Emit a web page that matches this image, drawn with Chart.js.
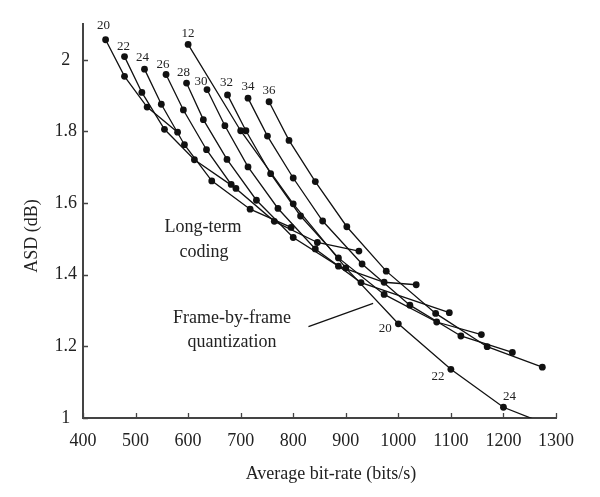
<!DOCTYPE html>
<html>
<head>
<meta charset="utf-8">
<script src="https://cdn.jsdelivr.net/npm/chart.js@4.4.0/dist/chart.umd.min.js"></script>
<style>
  html, body { margin: 0; padding: 0; background: #fff; }
  #wrap { width: 600px; height: 497px; }
</style>
</head>
<body>
<div id="wrap"><canvas id="c"></canvas></div>
<script>
// axis ticks
const xTicks = [400, 500, 600, 700, 800, 900, 1000, 1100, 1200, 1300];
const yTicks = [1, 1.2, 1.4, 1.6, 1.8, 2];

// long-term coding curves (label = first point)
const ltNames = ['20', '22', '24', '26', '28', '30', '32', '34', '36'];
const lt20x = [443, 479, 522, 580];
const lt20y = [2.056, 1.954, 1.868, 1.798];
const lt22x = [479, 512, 555, 612, 691];
const lt22y = [2.009, 1.909, 1.806, 1.721, 1.641];
const lt24x = [517, 549, 593, 645, 718, 796];
const lt24y = [1.974, 1.876, 1.763, 1.662, 1.583, 1.532];
const lt26x = [558, 591, 635, 682, 764, 846, 925];
const lt26y = [1.959, 1.860, 1.749, 1.652, 1.549, 1.490, 1.466];
const lt28x = [597, 629, 674, 730, 800, 886, 973, 1034];
const lt28y = [1.935, 1.833, 1.722, 1.608, 1.504, 1.424, 1.379, 1.372];
const lt30x = [636, 670, 714, 771, 842, 929, 1097];
const lt30y = [1.917, 1.816, 1.701, 1.585, 1.472, 1.378, 1.294];
const lt32x = [675, 710, 757, 814, 886, 973, 1073, 1158];
const lt32y = [1.902, 1.802, 1.682, 1.564, 1.447, 1.345, 1.268, 1.233];
const lt34x = [714, 751, 800, 856, 931, 1022, 1119, 1217];
const lt34y = [1.893, 1.787, 1.670, 1.550, 1.430, 1.315, 1.229, 1.183];
const lt36x = [754, 792, 842, 902, 977, 1071, 1169, 1274];
const lt36y = [1.883, 1.775, 1.660, 1.534, 1.410, 1.292, 1.199, 1.142];

// frame-by-frame quantization
const frameX = [600, 700, 800, 900, 1000, 1100, 1200, 1300];
const frameY = [2.043, 1.802, 1.598, 1.419, 1.263, 1.136, 1.030, 0.972];
const frameLabels = ['12', '', '', '', '20', '22', '24', ''];

// leader line for the "Frame-by-frame quantization" note
const leaderX = [829, 952];
const leaderY = [1.255, 1.320];

const FONT = "'Liberation Serif', 'DejaVu Serif', serif";
const INK = '#111';
const AXIS = '#444';

const pts = (xs, ys) => xs.map((x, i) => ({ x: x, y: ys[i] }));

const ltSeries = [
  [lt20x, lt20y], [lt22x, lt22y], [lt24x, lt24y], [lt26x, lt26y], [lt28x, lt28y],
  [lt30x, lt30y], [lt32x, lt32y], [lt34x, lt34y], [lt36x, lt36y]
];

const datasets = ltSeries.map((s, i) => ({
  label: 'LT ' + ltNames[i],
  data: pts(s[0], s[1]),
  borderColor: INK,
  borderWidth: 1.3,
  pointRadius: 3.4,
  pointBackgroundColor: INK,
  pointBorderWidth: 0,
  tension: 0
}));

datasets.push({
  label: 'Frame-by-frame',
  data: pts(frameX, frameY),
  borderColor: INK,
  borderWidth: 1.3,
  pointRadius: 3.4,
  pointBackgroundColor: INK,
  pointBorderWidth: 0,
  tension: 0,
  clip: { left: 10, top: 10, right: 10, bottom: 0 }
});

datasets.push({
  label: 'leader',
  data: pts(leaderX, leaderY),
  borderColor: INK,
  borderWidth: 1.2,
  pointRadius: 0,
  tension: 0
});

// label offsets in pixels from the labelled point
const ltLabelOff = [[-2, -14], [-1, -10], [-2, -12], [-3, -10], [-3, -11], [-6, -8], [-1, -12], [0, -12], [0, -11]];
const frameLabelOff = { 0: [0, -11], 4: [-13, 5], 5: [-13, 7], 6: [6, -11] };

const extras = {
  id: 'extras',
  afterDatasetsDraw(chart) {
    const ctx = chart.ctx;
    const xs = chart.scales.x, ys = chart.scales.y;
    const area = chart.chartArea;
    ctx.save();

    // inward tick marks
    ctx.strokeStyle = AXIS;
    ctx.lineWidth = 1.3;
    ctx.beginPath();
    xTicks.forEach(v => {
      const px = Math.round(xs.getPixelForValue(v)) + 0.5;
      ctx.moveTo(px, area.bottom);
      ctx.lineTo(px, area.bottom - 5);
    });
    yTicks.forEach(v => {
      const py = Math.round(ys.getPixelForValue(v)) + 0.5;
      ctx.moveTo(area.left, py);
      ctx.lineTo(area.left + 5, py);
    });
    ctx.stroke();

    // curve labels
    ctx.fillStyle = '#222';
    ctx.font = '13px ' + FONT;
    ctx.textAlign = 'center';
    ctx.textBaseline = 'middle';
    ltNames.forEach((name, i) => {
      const p = chart.getDatasetMeta(i).data[0];
      ctx.fillText(name, p.x + ltLabelOff[i][0], p.y + ltLabelOff[i][1]);
    });
    const fm = chart.getDatasetMeta(ltNames.length).data;
    frameLabels.forEach((t, i) => {
      if (!t) return;
      const o = frameLabelOff[i] || [0, -11];
      ctx.fillText(t, fm[i].x + o[0], fm[i].y + o[1]);
    });

    // notes and axis titles
    ctx.font = '18px ' + FONT;
    ctx.fillText('Long-term', 203, 227);
    ctx.fillText('coding', 204, 252);
    ctx.fillText('Frame-by-frame', 232, 318);
    ctx.fillText('quantization', 232, 342);
    ctx.fillText('Average bit-rate (bits/s)', 331, 474);
    ctx.translate(32, 236);
    ctx.rotate(-Math.PI / 2);
    ctx.fillText('ASD (dB)', 0, 0);
    ctx.restore();
  }
};

new Chart(document.getElementById('c'), {
  type: 'line',
  data: { datasets: datasets },
  options: {
    responsive: true,
    maintainAspectRatio: false,
    animation: false,
    devicePixelRatio: 1,
    layout: { padding: { left: 0, top: 24, right: 44, bottom: 0 } },
    plugins: { legend: { display: false }, tooltip: { enabled: false } },
    scales: {
      x: {
        type: 'linear',
        min: 400,
        max: 1300,
        afterBuildTicks: s => { s.ticks = xTicks.map(v => ({ value: v })); },
        afterFit: s => { s.height = 79; },
        grid: { display: false, drawTicks: false },
        border: { display: true, color: AXIS, width: 2 },
        ticks: {
          color: '#222', font: { family: FONT, size: 18 }, padding: 12, maxRotation: 0, autoSkip: false,
          callback: v => String(v)
        }
      },
      y: {
        type: 'linear',
        min: 1,
        max: 2.1,
        afterBuildTicks: s => { s.ticks = yTicks.map(v => ({ value: v })); },
        afterFit: s => { s.width = 83; },
        grid: { display: false, drawTicks: false },
        border: { display: true, color: AXIS, width: 2 },
        ticks: {
          color: '#222', font: { family: FONT, size: 18 }, padding: 6, crossAlign: 'center',
          callback: v => String(Math.round(v * 10) / 10)
        }
      }
    }
  },
  plugins: [extras]
});
</script>
</body>
</html>
